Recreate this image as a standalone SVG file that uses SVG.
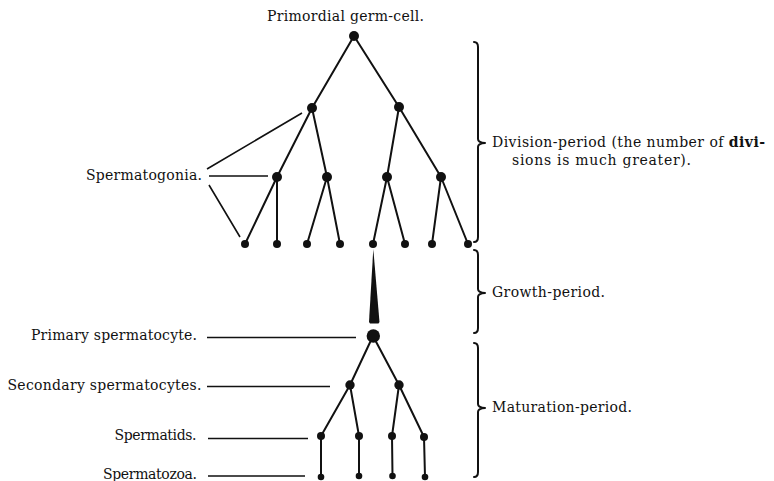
<svg xmlns="http://www.w3.org/2000/svg" width="774" height="481" viewBox="0 0 774 481">
<style>
.lbl{font-family:"DejaVu Serif","Liberation Serif",serif;font-size:14px;fill:#111}
.edge{stroke:#111;stroke-width:2;fill:none;stroke-linecap:round}
.lead{stroke:#111;stroke-width:1.6;fill:none}
.brace{stroke:#111;stroke-width:2;fill:none;stroke-linecap:round;stroke-linejoin:round}
.cell{fill:#111}
</style>
<rect width="774" height="481" fill="#fff"/>
<g id="connectors">
<path class="edge" d="M354,36L312,108M354,36L399,107"/>
<path class="edge" d="M312,108L277,177M312,108L327,177M399,107L387,177M399,107L441,177"/>
<path class="edge" d="M277,177L245,244M277,177L277,244M327,177L307,244M327,177L340,244M387,177L373,244M387,177L405,244M441,177L432,244M441,177L468,244"/>
<polygon id="growth-wedge" class="cell" points="373.3,249 369,322 370,323.5 378.5,323.5 379.5,322"/>
<path class="edge" d="M373,336L350,385M373,336L399,385"/>
<path class="edge" d="M350,385L321,436M350,385L359,436M399,385L392,436M399,385L424,437"/>
<path class="edge" d="M321,436L321,477M359,436L359,476M392,436L392.5,476M424,437L425,477"/>
<path class="lead" d="M207,169L302,113M209,176L268,176M209,185L240,237"/>
<path class="lead" d="M207,337.5L356,337.5M207,386.5L330,386.5M208,438.5L308,438.5M208,476L305,476"/>
</g>
<g id="braces">
<path class="brace" d="M474,42Q478,42 478,47L478,139Q478,142.5 485,143Q478,143.5 478,147L478,237Q478,242 474,242"/>
<path class="brace" d="M474,250Q478,250 478,255L478,289Q478,292.5 485,293Q478,293.5 478,297L478,328Q478,333 474,333"/>
<path class="brace" d="M474,343Q478,343 478,348L478,404Q478,407.5 485,408Q478,408.5 478,412L478,472Q478,477 474,477"/>
</g>
<g id="primordial-germ-cell"><circle class="cell" cx="354" cy="36" r="5"/><text class="lbl" x="267" y="20.5" textLength="157">Primordial germ-cell.</text></g>
<g id="spermatogonia-l2a"><circle class="cell" cx="312" cy="108" r="5"/></g>
<g id="spermatogonia-l2b"><circle class="cell" cx="399" cy="107" r="5"/></g>
<g id="spermatogonia-l3a"><circle class="cell" cx="277" cy="177" r="5"/></g>
<g id="spermatogonia-l3b"><circle class="cell" cx="327" cy="177" r="5"/></g>
<g id="spermatogonia-l3c"><circle class="cell" cx="387" cy="177" r="5"/></g>
<g id="spermatogonia-l3d"><circle class="cell" cx="441" cy="177" r="5"/></g>
<g id="spermatogonia-l4">
<circle class="cell" cx="245" cy="244" r="4"/><circle class="cell" cx="277" cy="244" r="4"/>
<circle class="cell" cx="307" cy="244" r="4"/><circle class="cell" cx="340" cy="244" r="4"/>
<circle class="cell" cx="373" cy="244" r="4"/><circle class="cell" cx="405" cy="244" r="4"/>
<circle class="cell" cx="432" cy="244" r="4"/><circle class="cell" cx="468" cy="244" r="4"/>
</g>
<g id="spermatogonia-label"><text class="lbl" x="86" y="180" textLength="116">Spermatogonia.</text></g>
<g id="primary-spermatocyte"><circle class="cell" cx="373.3" cy="336" r="6.7"/><text class="lbl" x="31" y="339.5" textLength="166">Primary spermatocyte.</text></g>
<g id="secondary-spermatocytes"><circle class="cell" cx="350" cy="385" r="4.7"/><circle class="cell" cx="399" cy="385" r="4.7"/><text class="lbl" x="7.5" y="390" textLength="194">Secondary spermatocytes.</text></g>
<g id="spermatids"><circle class="cell" cx="321" cy="436" r="4"/><circle class="cell" cx="359" cy="436" r="4"/><circle class="cell" cx="392" cy="436" r="4"/><circle class="cell" cx="424" cy="437" r="4"/><text class="lbl" x="114.5" y="439.5" textLength="82">Spermatids.</text></g>
<g id="spermatozoa"><circle class="cell" cx="321" cy="477" r="3.3"/><circle class="cell" cx="359" cy="476" r="3.3"/><circle class="cell" cx="392.5" cy="476" r="3.3"/><circle class="cell" cx="425" cy="477" r="3.3"/><text class="lbl" x="103" y="478.5" textLength="94">Spermatozoa.</text></g>
<g id="division-period"><text class="lbl" x="492" y="146.7" textLength="273">Division-period (the number of <tspan font-weight="bold">divi-</tspan></text><text class="lbl" x="512" y="165" textLength="179">sions is much greater).</text></g>
<g id="growth-period"><text class="lbl" x="492" y="297" textLength="113">Growth-period.</text></g>
<g id="maturation-period"><text class="lbl" x="492" y="412" textLength="140">Maturation-period.</text></g>
</svg>
